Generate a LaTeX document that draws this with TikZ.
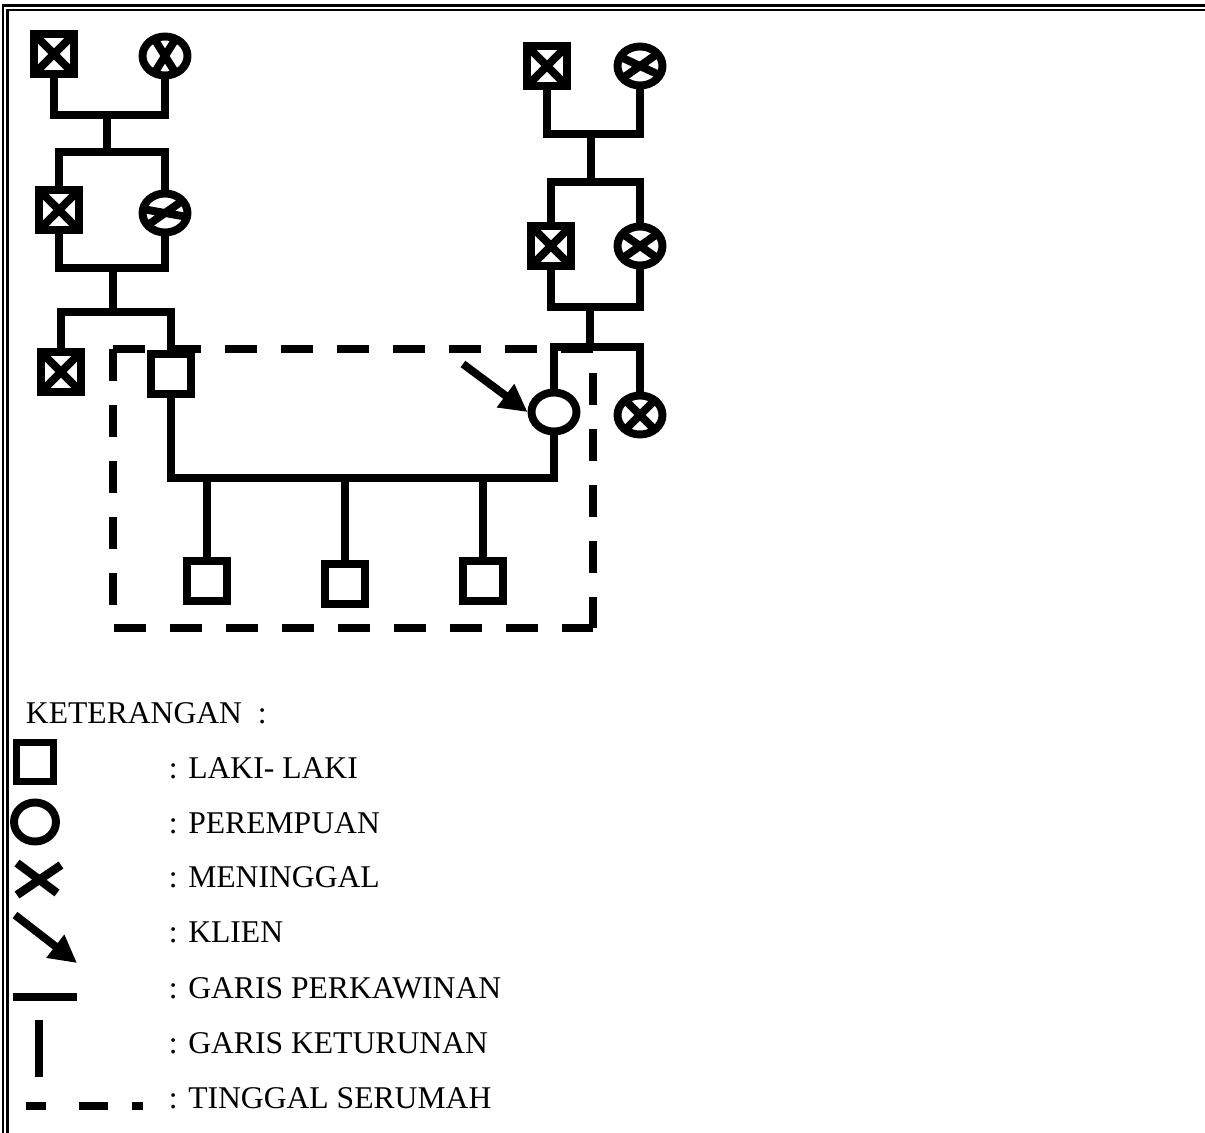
\documentclass[tikz,border=0pt]{standalone}
\usepackage{fontspec}
\setmainfont{Liberation Serif}
\usepackage{tikz}
\usetikzlibrary{arrows.meta,shapes.geometric}

\begin{document}
\begin{tikzpicture}[
  font=\fontsize{18}{22}\selectfont,
  line width=4.5pt,
  malecell/.style={draw, rectangle, inner sep=0pt, minimum width=0.80cm, minimum height=0.80cm},
  femalecell/.style={draw, ellipse, inner sep=0pt, minimum width=0.90cm, minimum height=0.78cm},
  deadmark/.style 2 args={path picture={
    \draw[line width=4.5pt] ([shift={(#1:1cm)}]path picture bounding box.center) -- ([shift={(#1+180:1cm)}]path picture bounding box.center)
      ([shift={(#2:1cm)}]path picture bounding box.center) -- ([shift={(#2+180:1cm)}]path picture bounding box.center);}},
  house/.style={line width=4.3pt, dash pattern=on 0.64cm off 0.48cm},
  klien/.style={-{Triangle[length=0.55cm,width=0.55cm]}},
  pageframe/.style={line width=1.2pt},
  ket/.style={anchor=base west, inner sep=0pt}
]
\useasboundingbox (0,0) rectangle (24.10,-22.66);
\draw[pageframe] (0.06,-23) |- (24.5,-0.11);
\draw[pageframe] (0.15,-23) |- (24.5,-0.205);

% left family
\node[malecell, deadmark={45}{135}] (gf1) at (1.08,-1.08) {};
\node[femalecell, deadmark={58}{122}] (gm1) at (3.30,-1.12) {};
\node[malecell, deadmark={45}{135}] (pa1) at (1.18,-4.20) {};
\node[femalecell, deadmark={35}{170}] (ma1) at (3.30,-4.26) {};
\node[malecell, deadmark={45}{135}] (uncle) at (1.22,-7.44) {};
\node[malecell] (father) at (3.42,-7.48) {};

% right family
\node[malecell, deadmark={45}{135}] (gf2) at (10.94,-1.32) {};
\node[femalecell, deadmark={35}{155}] (gm2) at (12.80,-1.32) {};
\node[malecell, deadmark={45}{135}] (pa2) at (11.02,-4.92) {};
\node[femalecell, deadmark={35}{145}] (ma2) at (12.80,-4.92) {};
\node[femalecell] (client) at (11.08,-8.24) {};
\node[femalecell, deadmark={45}{135}] (aunt) at (12.80,-8.30) {};

% children
\foreach \x/\y [count=\i] in {4.14/-11.62,6.90/-11.68,9.66/-11.62} {
  \node[malecell] (son\i) at (\x,\y) {};
}

\coordinate (m1) at (2.14,-2.30);
\coordinate (s1) at (2.14,-3.04);
\coordinate (m2) at (2.26,-5.36);
\coordinate (s2) at (2.26,-6.24);
\coordinate (m3) at (6.90,-9.56);
\coordinate (m4) at (11.82,-2.68);
\coordinate (s4) at (11.82,-3.64);
\coordinate (m5) at (11.80,-6.14);
\coordinate (s5) at (11.80,-6.94);
\coordinate (tip) at (9.26,-7.28);

\draw (gf1.south) |- (m1) -| (gm1.south);
\draw (m1) -- (s1);
\draw (pa1.north) |- (s1) -| (ma1.north);
\draw (pa1.south) |- (m2) -| (ma1.south);
\draw (m2) -- (s2);
\draw (uncle.north) |- (s2) -| (father.north);
\draw (father.south) |- (m3) -| (client.south);
\foreach \i in {1,2,3} \draw (son\i.north) -- (son\i.north |- m3);
\draw (gf2.south) |- (m4) -| (gm2.south);
\draw (m4) -- (s4);
\draw (pa2.north) |- (s4) -| (ma2.north);
\draw (pa2.south) |- (m5) -| (ma2.south);
\draw (m5) -- (s5);
\draw (client.north) |- (s5) -| (aunt.north);
\draw[klien] (tip) -- (client.west);

% tinggal serumah
\draw[house] (2.26,-6.98) |- (11.86,-12.56);
\draw[house] (2.26,-6.98) -| (11.86,-12.56);

% keterangan
\node[ket] (keterangan) at (0.44,-14.46) {KETERANGAN~~:};
\node[malecell, minimum width=0.74cm, minimum height=0.78cm] (lsq) at (0.70,-15.24) {};
\node[femalecell, minimum width=0.84cm, minimum height=0.78cm] (lci) at (0.70,-16.44) {};
\draw[line width=4.8pt] (0.34,-17.26) -- (1.14,-17.86) (1.22,-17.30) -- (0.34,-17.90);
\draw[klien] (0.30,-18.30) -- (1.54,-19.26);
\draw[line width=4.8pt] (0.26,-19.94) -- (1.54,-19.94);
\draw[line width=4.8pt] (0.78,-20.40) -- (0.78,-21.54);
\draw[line width=4.8pt, dash pattern=on 0.40cm off 0.66cm on 0.58cm off 0.48cm on 0.22cm] (0.52,-22.12) -- (2.86,-22.12);
\foreach \t/\y [count=\i] in {LAKI- LAKI/-15.56,PEREMPUAN/-16.66,MENINGGAL/-17.74,KLIEN/-18.84,GARIS PERKAWINAN/-19.96,GARIS KETURUNAN/-21.06,TINGGAL SERUMAH/-22.16} {
  \node[ket] (item\i) at (3.30,\y) {: \t};
}
\end{tikzpicture}
\end{document}
